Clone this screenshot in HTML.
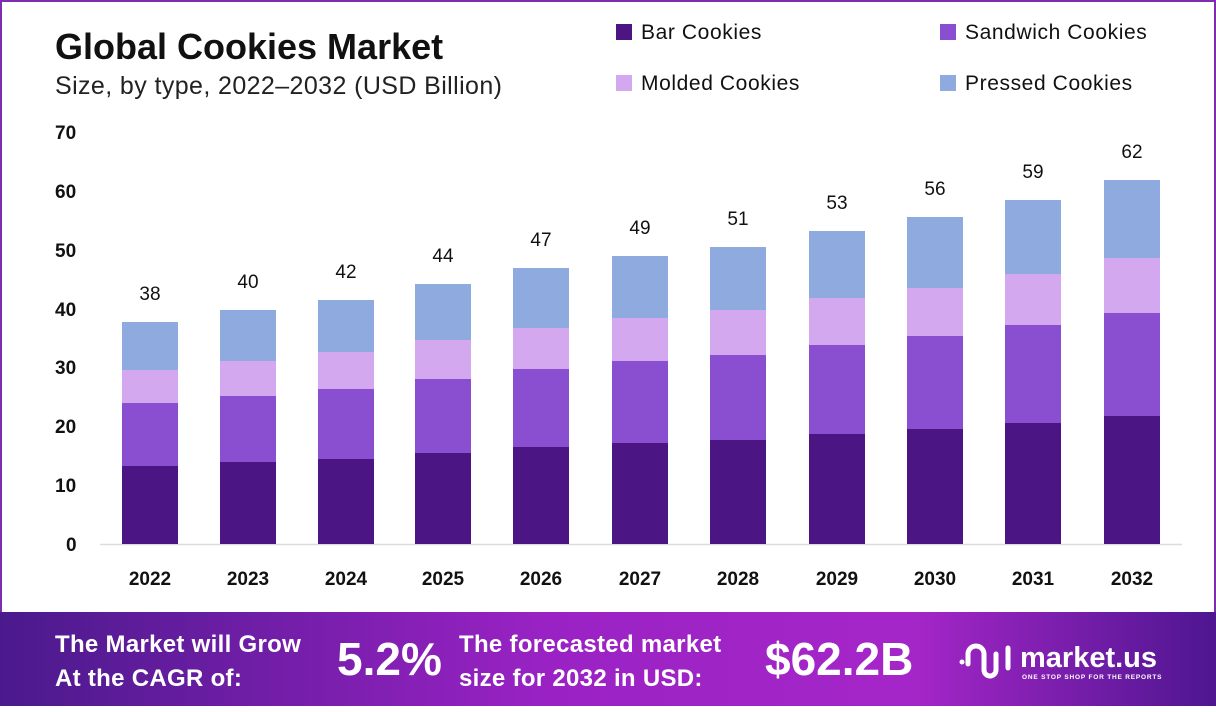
<!DOCTYPE html>
<html><head><meta charset="utf-8"><style>
html,body{margin:0;padding:0;background:#fff}
body{width:1216px;height:712px;position:relative;overflow:hidden;font-family:"Liberation Sans",sans-serif}
.frame{position:absolute;left:0;top:0;width:1212px;height:612px;border:2px solid #7b2fb0;border-bottom:none;box-sizing:content-box}
.t{position:absolute;white-space:nowrap}
</style></head><body>
<div class="frame"></div>
<div class="t" style="left:55px;top:26px;font-size:36px;font-weight:bold;color:#111;letter-spacing:0px">Global Cookies Market</div>
<div class="t" style="left:55px;top:72px;font-size:25px;color:#222;letter-spacing:0.4px">Size, by type, 2022–2032 (USD Billion)</div>
<svg width="1216" height="712" style="position:absolute;left:0;top:0">
<g font-family="Liberation Sans" font-size="21" fill="#111" letter-spacing="0.6">
<rect x="616" y="24" width="16" height="16" fill="#4b1684"/><text x="641" y="39">Bar Cookies</text>
<rect x="940" y="24" width="16" height="16" fill="#8a4fd0"/><text x="965" y="39">Sandwich Cookies</text>
<rect x="616" y="75" width="16" height="16" fill="#d4a8ee"/><text x="641" y="90">Molded Cookies</text>
<rect x="940" y="75" width="16" height="16" fill="#8eaadf"/><text x="965" y="90">Pressed Cookies</text>
</g>
<g font-family="Liberation Sans" font-size="19" font-weight="bold" fill="#111">
<text x="55" y="139">70</text><text x="55" y="198">60</text><text x="55" y="257">50</text><text x="55" y="316">40</text><text x="55" y="374">30</text><text x="55" y="433">20</text><text x="55" y="492">10</text><text x="66" y="551">0</text>
</g>
<line x1="100" y1="544.5" x2="1182" y2="544.5" stroke="#ddd" stroke-width="1.5"/>
<g id="bars"></g>
<g font-family="Liberation Sans" font-size="19" fill="#111" text-anchor="middle">
<text x="150" y="300">38</text><text x="248" y="288">40</text><text x="346" y="278">42</text><text x="443" y="262">44</text><text x="541" y="246">47</text><text x="640" y="234">49</text><text x="738" y="225">51</text><text x="837" y="209">53</text><text x="935" y="195">56</text><text x="1033" y="178">59</text><text x="1132" y="158">62</text>
</g>
<g font-family="Liberation Sans" font-size="19" font-weight="bold" fill="#111" text-anchor="middle">
<text x="150" y="585">2022</text><text x="248" y="585">2023</text><text x="346" y="585">2024</text><text x="443" y="585">2025</text><text x="541" y="585">2026</text><text x="640" y="585">2027</text><text x="738" y="585">2028</text><text x="837" y="585">2029</text><text x="935" y="585">2030</text><text x="1033" y="585">2031</text><text x="1132" y="585">2032</text>
</g>
<defs><linearGradient id="bg" x1="0" x2="1" y1="0" y2="0">
<stop offset="0" stop-color="#4a1a8c"/><stop offset="0.45" stop-color="#9a22c4"/><stop offset="0.75" stop-color="#a526c8"/><stop offset="1" stop-color="#4e1690"/></linearGradient></defs>
<rect x="0" y="612" width="1216" height="94" fill="url(#bg)"/>
<g font-family="Liberation Sans" font-weight="bold" fill="#fff">
<text x="55" y="652" font-size="24" letter-spacing="0.3">The Market will Grow</text>
<text x="55" y="686" font-size="24" letter-spacing="0.3">At the CAGR of:</text>
<text x="337" y="675" font-size="46">5.2%</text>
<text x="459" y="652" font-size="24" letter-spacing="0.3">The forecasted market</text>
<text x="459" y="686" font-size="24" letter-spacing="0.3">size for 2032 in USD:</text>
<text x="765" y="675" font-size="46">$62.2B</text>
<text x="1020" y="667" font-size="29">market.us</text>
<text x="1022" y="679" font-size="6.5" letter-spacing="0.8">ONE STOP SHOP FOR THE REPORTS</text>
</g>
<g fill="none" stroke="#fff" stroke-width="5" stroke-linecap="round">
<path d="M968 664 v-10 a8 8 0 0 1 16 0 v16 a6 6 0 0 0 12 0 v-16"/><line x1="1008" y1="648" x2="1008" y2="668"/>
</g>
<circle cx="962" cy="662" r="2.5" fill="#fff"/>
</svg>
<script>
var d=[[150,322,370,403,466],[248,310,361,396,462],[346,300,352,389,459],[443,284,340,379,453],[541,268,328,369,447],[640,256,318,361,443],[738,247,310,355,440],[837,231,298,345,434],[935,217,288,336,429],[1033,200,274,325,423],[1132,180,258,313,416]];
var c=["#8eaadf","#d4a8ee","#8a4fd0","#4b1684"],s="";
d.forEach(function(b){var ys=[b[1],b[2],b[3],b[4],544];for(var i=0;i<4;i++){s+='<rect x="'+(b[0]-28)+'" y="'+ys[i]+'" width="56" height="'+(ys[i+1]-ys[i])+'" fill="'+c[i]+'"/>';}});
document.getElementById("bars").innerHTML=s;
</script>
</body></html>
